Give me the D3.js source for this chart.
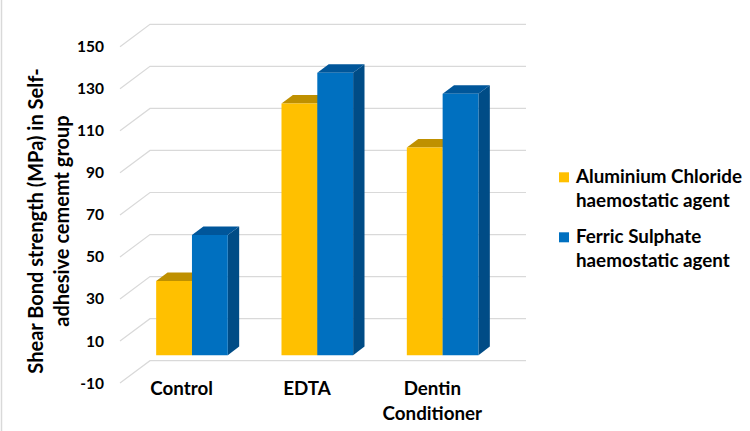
<!DOCTYPE html>
<html>
<head>
<meta charset="utf-8">
<script src="https://cdn.jsdelivr.net/npm/d3@7"></script>
<style>
  html, body { margin: 0; padding: 0; background: #fff; }
  svg { display: block; }
  text { font-family: Lato, "Open Sans", sans-serif; font-weight: 700; fill: #000; }
</style>
</head>
<body>
<svg id="chart" width="750" height="431"></svg>
<script>
// ---- data ----
const categories = ["Control", "EDTA", "Dentin Conditioner"];
const seriesNames = ["Aluminium Chloride haemostatic agent", "Ferric Sulphate haemostatic agent"];
const aluminiumChloride = [35.3, 119.7, 98.8];
const ferricSulphate = [57.1, 134.3, 124.3];
const tickValues = [-10, 10, 30, 50, 70, 90, 110, 130, 150];
const yTitleLines = ["Shear Bond strength (MPa) in Self-", "adhesive cememt group"];
const legendLines = [["Aluminium Chloride", "haemostatic agent"], ["Ferric Sulphate", "haemostatic agent"]];
const categoryLines = [["Control"], ["EDTA"], ["Dentin", "Conditioner"]];

// ---- styles ----
const colors = [
  { front: "#FFC000", top: "#BF9000", side: "#BF9000" },
  { front: "#0070C0", top: "#00569A", side: "#004C86" }
];

const svg = d3.select("#chart");
const W = 750, H = 431;

// left border
svg.append("line").attr("x1", 1.5).attr("x2", 1.5).attr("y1", 0).attr("y2", H)
  .attr("stroke", "#d9d9d9").attr("stroke-width", 1.5);

// 3D geometry (oblique projection): back wall coords, depth offset to the front
const backX0 = 150, backX1 = 526;
const depthDX = 30, depthDY = 22.4;   // front plane is shifted left/down by this
const y = d3.scaleLinear().domain([-10, 150]).range([360.7, 24.3]);   // back wall
const yFront = d3.scaleLinear().domain([-10, 150]).range([360.7 + depthDY, 24.3 + depthDY]);

function P(xb, yb, d) { // d: 0 = front, 1 = back
  return [xb - depthDX * (1 - d), yb + depthDY * (1 - d)];
}

// gridlines: side wall diagonal + back wall horizontal
const grid = svg.append("g");
tickValues.forEach(v => {
  const yb = y(v);
  const f = P(backX0, yb, 0);
  grid.append("polyline")
    .attr("points", [f, [backX0, yb], [backX1, yb]].map(p => p.join(",")).join(" "))
    .attr("fill", "none").attr("stroke", "#d9d9d9").attr("stroke-width", 1.2);
});

// y axis labels via d3 axis on front plane
const axisG = svg.append("g").attr("transform", `translate(${backX0 - depthDX - 2},0)`)
  .call(d3.axisLeft(yFront).tickValues(tickValues).tickSize(0).tickPadding(14).tickFormat(d => String(d)));
axisG.select(".domain").remove();
axisG.selectAll("text").style("font-family", "Lato, 'Open Sans', sans-serif")
  .style("font-weight", 700).style("font-size", "15.5px").attr("fill", "#000");

// bars
const xBand = d3.scaleBand().domain(categories).range([backX0, backX1]);
const xSub = d3.scaleBand().domain([0, 1]).range([0, xBand.bandwidth()]).paddingInner(0).paddingOuter(0.75);
const dFront = 0.31, dBack = 0.69;
const seriesVals = [aluminiumChloride, ferricSulphate];

const bars = svg.append("g");
categories.forEach((c, ci) => {
  seriesVals.forEach((vals, si) => {
    const v = vals[ci];
    const x0 = xBand(c) + xSub(si), x1 = x0 + xSub.bandwidth();
    const yb0 = y(0), yb1 = y(v);
    const fl_t = P(x0, yb1, dFront), fr_t = P(x1, yb1, dFront), fr_b = P(x1, yb0, dFront), fl_b = P(x0, yb0, dFront);
    const bl_t = P(x0, yb1, dBack), br_t = P(x1, yb1, dBack), br_b = P(x1, yb0, dBack);
    const pts = a => a.map(p => p.join(",")).join(" ");
    bars.append("polygon").attr("points", pts([fr_t, fr_b, br_b, br_t])).attr("fill", colors[si].side);
    bars.append("polygon").attr("points", pts([fl_t, fr_t, br_t, bl_t])).attr("fill", colors[si].top);
    bars.append("polygon").attr("points", pts([fl_t, fr_t, fr_b, fl_b])).attr("fill", colors[si].front);
  });
});

// category labels
const catG = svg.append("g");
categories.forEach((c, ci) => {
  const cx = xBand(c) + xBand.bandwidth() / 2 - depthDX - 1;
  const t = catG.append("text").attr("text-anchor", "middle").style("font-size", "18.8px");
  categoryLines[ci].forEach((ln, li) => {
    t.append("tspan").attr("x", cx).attr("y", 395 + li * 24.8).text(ln);
  });
});

// y title
const yt = svg.append("text").attr("transform", "translate(43,221) rotate(-90)")
  .attr("text-anchor", "middle").style("font-size", "20px");
yTitleLines.forEach((ln, li) => {
  yt.append("tspan").attr("x", 0).attr("y", li * 26).text(ln);
});

// legend
const lg = svg.append("g");
const legendY = [172.3, 232.3];
seriesNames.forEach((s, si) => {
  lg.append("rect").attr("x", 559).attr("y", legendY[si]).attr("width", 10).attr("height", 10)
    .attr("fill", colors[si].front);
  const t = lg.append("text").style("font-size", "18.8px");
  legendLines[si].forEach((ln, li) => {
    t.append("tspan").attr("x", 576).attr("y", legendY[si] + 11 + li * 23.5).text(ln);
  });
});
</script>
</body>
</html>
